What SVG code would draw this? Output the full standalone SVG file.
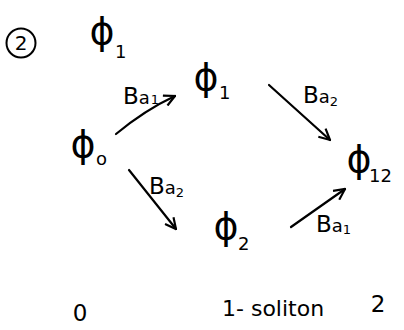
<svg xmlns="http://www.w3.org/2000/svg" width="404" height="330" viewBox="0 0 404 330">
<defs>
<marker id="ah" viewBox="0 0 12 12" refX="11" refY="6" markerWidth="13" markerHeight="13" markerUnits="userSpaceOnUse" orient="auto">
<path d="M1,1 L11,6 L1,11" fill="none" stroke="#000" stroke-width="2"/>
</marker>
<style>
.t{font-family:"DejaVu Sans","Liberation Sans",sans-serif;fill:#000}
.phi{font-size:38px;text-anchor:middle}
.sub{font-size:18px}
.lab{font-size:23px}
.la{font-size:18px}
.ls{font-size:13px}
.e{fill:none;stroke:#000;stroke-width:2.2;stroke-linecap:round;marker-end:url(#ah)}
</style>
</defs>
<rect width="404" height="330" fill="#fff"/>
<g id="label-2">
<circle cx="21" cy="43" r="14.5" fill="none" stroke="#000" stroke-width="2"/>
<text class="t" x="21" y="50" font-size="20" text-anchor="middle">2</text>
</g>
<g id="top-phi1">
<text class="t phi" x="102" y="44">ϕ</text>
<text class="t sub" x="115" y="58">1</text>
</g>
<g id="phi0">
<text class="t phi" x="83" y="157">ϕ</text>
<text class="t sub" x="96" y="165" font-size="15">o</text>
</g>
<g id="phi1">
<text class="t phi" x="206" y="90">ϕ</text>
<text class="t sub" x="219" y="99">1</text>
</g>
<g id="phi2">
<text class="t phi" x="226" y="239">ϕ</text>
<text class="t sub" x="238" y="250">2</text>
</g>
<g id="phi12">
<text class="t phi" x="359" y="172">ϕ</text>
<text class="t sub" x="369" y="182">12</text>
</g>
<g id="connectors">
<path class="e" d="M116,134 Q145,110 175,96"/>
<text class="t lab" x="123" y="104">B<tspan class="la">a</tspan><tspan class="ls" dx="1">1</tspan></text>
<path class="e" d="M269,85 L330,140"/>
<text class="t lab" x="303" y="103">B<tspan class="la">a</tspan><tspan class="ls" dy="3">2</tspan></text>
<path class="e" d="M129,170 L176,229"/>
<text class="t lab" x="149" y="194">B<tspan class="la" font-size="15">a</tspan><tspan class="ls" font-size="11" dy="3">2</tspan></text>
<path class="e" d="M291,227 L345,189"/>
<text class="t lab" x="316" y="232">B<tspan class="la">a</tspan><tspan class="ls" dy="2">1</tspan></text>
</g>
<g id="bottom">
<text class="t" x="80" y="321" font-size="23" text-anchor="middle">0</text>
<text class="t" x="222" y="316" font-size="22">1- soliton</text>
<text class="t" x="378" y="312" font-size="23" text-anchor="middle">2</text>
</g>
</svg>
